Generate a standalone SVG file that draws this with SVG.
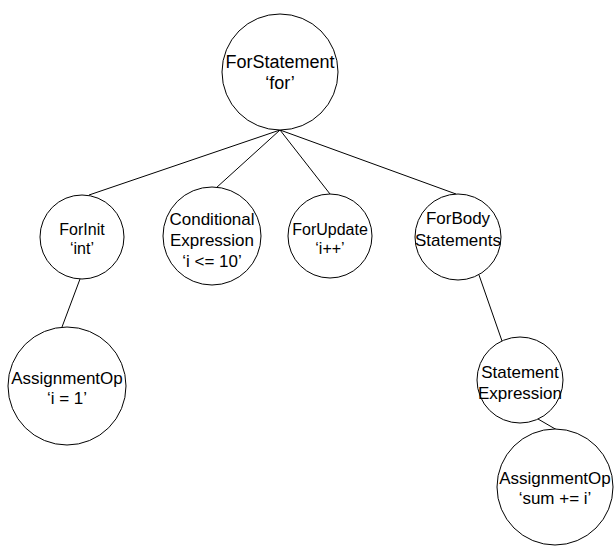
<svg xmlns="http://www.w3.org/2000/svg" width="616" height="558" viewBox="0 0 616 558">
<style>
.n{fill:#fff;stroke:#000;stroke-width:1}
.t{font-family:"Liberation Sans",Arial,sans-serif;font-size:17px;fill:#000;text-anchor:middle}
.s{font-size:16px}
.l{font-size:18px}
.c{stroke:#000;stroke-width:1;fill:none}
</style>
<rect width="616" height="558" fill="#fff"/>
<g id="connectors">
<line class="c" x1="280" y1="130" x2="89" y2="195"/>
<line class="c" x1="280" y1="130" x2="216" y2="188"/>
<line class="c" x1="280" y1="130" x2="330" y2="194"/>
<line class="c" x1="280" y1="130" x2="456" y2="194"/>
<line class="c" x1="80" y1="279" x2="62" y2="327"/>
<line class="c" x1="479" y1="275" x2="502" y2="341"/>
<line class="c" x1="538" y1="419" x2="557" y2="430"/>
</g>
<g id="forStatement">
<circle class="n" cx="280" cy="72" r="58"/>
<text class="t l" x="280" y="68">ForStatement</text>
<text class="t l" x="280" y="89">‘for’</text>
</g>
<g id="forInit">
<circle class="n" cx="82" cy="237" r="42"/>
<text class="t s" x="82" y="235">ForInit</text>
<text class="t s" x="82" y="254">‘int’</text>
</g>
<g id="conditional">
<circle class="n" cx="212" cy="236" r="49"/>
<text class="t" x="212" y="225">Conditional</text>
<text class="t" x="212" y="246">Expression</text>
<text class="t" x="212" y="267">‘i &lt;= 10’</text>
</g>
<g id="forUpdate">
<circle class="n" cx="330" cy="236" r="42"/>
<text class="t s" x="330" y="235">ForUpdate</text>
<text class="t s" x="330" y="254">‘i++’</text>
</g>
<g id="forBody">
<circle class="n" cx="458" cy="237" r="43"/>
<text class="t" x="458" y="224">ForBody</text>
<text class="t" x="458" y="246">Statements</text>
</g>
<g id="assign1">
<circle class="n" cx="67" cy="386" r="59"/>
<text class="t" x="67" y="384">AssignmentOp</text>
<text class="t" x="67" y="404">‘i = 1’</text>
</g>
<g id="stmtExpr">
<circle class="n" cx="520" cy="380" r="43"/>
<text class="t" x="520" y="378">Statement</text>
<text class="t" x="520" y="399">Expression</text>
</g>
<g id="assign2">
<circle class="n" cx="555" cy="487" r="58"/>
<text class="t" x="555" y="484">AssignmentOp</text>
<text class="t" x="555" y="504">‘sum += i’</text>
</g>
</svg>
